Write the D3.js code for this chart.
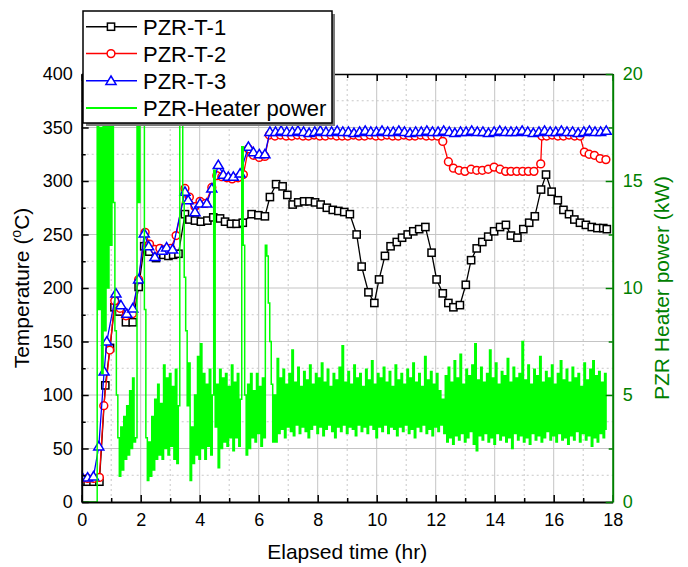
<!DOCTYPE html>
<html><head><meta charset="utf-8">
<script src="https://cdn.jsdelivr.net/npm/d3@7"></script>
<style>body{margin:0;background:#fff}svg{font-family:"Liberation Sans",Arial,sans-serif}</style>
</head><body><svg id="c" width="688" height="567"></svg>
<script>
// ---------------- data ----------------
const t1Time = [0,0.2,0.4,0.6,0.8,0.96,1.11,1.27,1.5,1.73,1.93,2.12,2.29,2.52,2.77,2.94,3.1,3.28,3.5,3.65,3.84,4.04,4.26,4.46,4.69,4.86,5.06,5.25,5.46,5.76,5.99,6.21,6.38,6.59,6.81,6.97,7.15,7.34,7.54,7.72,7.91,8.10,8.31,8.51,8.70,8.90,9.09,9.32,9.49,9.72,9.92,10.08,10.28,10.47,10.68,10.86,11.05,11.24,11.44,11.65,11.86,12.03,12.24,12.43,12.60,12.82,13.02,13.20,13.39,13.58,13.78,13.98,14.18,14.38,14.55,14.77,14.97,15.17,15.36,15.57,15.74,15.93,16.14,16.33,16.52,16.70,16.89,17.09,17.29,17.48,17.68,17.80];
const t1Temp = [19,19,19,19,109,144,182,178,168,168,201,239,234,228,231,230,231,232,269,264,263,262,263,266,265,262,260,260,261,269,268,267,285,297,295,287,278,280,281,281,280,278,275,273,272,271,269,250,220,196,186,208,230,239,243,247,250,253,255,257,233,208,195,186,182,184,203,226,237,243,248,253,257,259,249,247,255,261,267,292,306,290,282,273,269,264,261,259,257,256,256,255];

const t2Time = [0,0.2,0.4,0.6,0.75,0.95,1.12,1.3,1.5,1.72,1.93,2.15,2.3,2.48,2.65,2.85,3.02,3.2,3.5,3.65,3.84,4.01,4.2,4.41,4.58,4.75,4.92,5.1,5.3,5.48,5.65,5.82,6.02,6.21,6.36,6.55,6.74,6.93,7.12,7.31,7.50,7.69,7.88,8.07,8.26,8.45,8.64,8.83,9.02,9.21,9.40,9.59,9.78,9.97,10.16,10.35,10.54,10.73,10.92,11.11,11.30,11.49,11.68,11.87,12.06,12.24,12.43,12.60,12.79,12.99,13.20,13.39,13.58,13.78,13.98,14.18,14.37,14.55,14.75,14.95,15.14,15.33,15.56,15.60,15.76,15.95,16.14,16.33,16.52,16.71,16.89,17.04,17.20,17.38,17.57,17.77];
const t2Temp = [22,22,22,23,90,142,188,181,174,176,208,252,241,236,237,236,237,249,293,285,276,281,279,294,305,304,303,302,303,306,330,324,322,323,343,342,343,342,342,343,342,342,343,342,342,343,342,342,342,343,342,342,343,342,342,343,342,342,343,342,342,343,342,342,342,337,318,312,310,309,311,310,310,311,313,311,309,309,309,309,309,309,316,342,342,343,342,342,343,342,342,327,325,324,321,320];

const t3Time = [0,0.2,0.4,0.58,0.76,0.85,1.16,1.33,1.53,1.73,1.93,2.12,2.27,2.48,2.72,2.88,3.08,3.5,3.61,3.84,4.01,4.24,4.41,4.63,4.80,4.97,5.14,5.37,5.65,5.82,6.02,6.21,6.38,6.57,6.76,6.95,7.14,7.33,7.52,7.71,7.90,8.09,8.28,8.47,8.66,8.85,9.04,9.23,9.42,9.61,9.80,9.99,10.18,10.37,10.56,10.75,10.94,11.13,11.32,11.51,11.70,11.89,12.08,12.27,12.46,12.65,12.84,13.03,13.22,13.41,13.60,13.79,13.98,14.17,14.36,14.55,14.74,14.93,15.12,15.31,15.50,15.69,15.88,16.07,16.26,16.45,16.64,16.83,17.02,17.21,17.40,17.59,17.78];
const t3Temp = [24,23,24,52,122,150,195,184,176,181,208,251,239,229,235,238,236,290,282,271,279,279,293,315,306,304,304,307,332,327,325,325,346,346,347,346,346,347,346,345,346,347,346,346,347,346,346,345,346,347,346,346,347,346,346,347,346,345,346,346,347,346,346,347,346,345,346,346,347,346,346,345,346,347,346,346,346,347,346,345,346,347,346,346,347,346,346,345,346,347,346,346,347];

// heater power, sampled every 0.05 hr from 0 hr (kW)
const heaterStart = 0, heaterStep = 0.05;
const heaterPower = [
0,0,0,0,0,0,0,0,0,0,0,
22,9,17.5,6,22,8,22,10,22,12,
22,14,8,5,3,1.2,3.5,1.5,4.0,2.0,
4.5,2.2,5.2,2.5,5.8,2.8,3.0,22,14,22,
18,22,9,3,1.0,2.8,1.2,4.0,1.5,4.8,
2.0,5.5,2.2,4.6,2.0,6.4,2.5,5.8,2.2,6.0,
2.6,5.4,2.0,6.2,1.8,4.5,22,22,14,10.5,
8,4.5,6.5,1.0,3.5,1.8,5.0,2.2,6.8,2.0,
7.4,2.5,6.0,2.0,5.5,2.6,6.2,2.2,5.0,15.5,
3.5,5.5,1.6,6.2,2.5,5.8,2.8,6.0,2.6,5.4,
3.0,6.4,2.4,5.6,3.0,6.0,2.6,4.8,16.6,12,
5.0,2.2,5.5,2.5,6.0,3.0,5.2,2.8,6.0,3.2,
5.4,2.6,5.8,3.0,12.0,11.5,9.3,7.5,5.5,2.8,
5.0,2.8,
6.7,3.2,5.8,3.4,6.2,3.0,5.5,3.5,6.0,3.3,7.1,3.1,5.6,3.6,6.3,3.2,5.4,3.5,6.1,3.3,
5.7,3.0,6.4,3.4,5.5,3.6,6.0,3.2,5.8,3.5,6.5,3.1,5.6,3.4,6.2,3.6,5.4,3.3,6.0,3.0,
5.7,3.5,6.3,3.3,7.3,3.6,5.6,3.2,6.1,3.5,5.5,3.4,6.4,3.1,5.8,3.6,6.0,3.3,5.4,3.5,
6.2,3.2,5.7,3.6,6.6,3.4,5.5,3.0,6.0,3.5,5.8,3.3,6.3,3.6,5.6,3.2,6.1,3.5,5.4,3.4,
6.4,3.1,5.7,3.5,6.0,3.3,5.5,3.6,6.2,3.2,5.8,3.4,6.5,3.0,5.6,3.5,6.0,3.3,5.4,3.6,
6.8,3.2,5.7,3.4,6.1,3.1,5.5,3.5,6.0,3.3,5.2,3.6,4.8,3.2,5.9,2.8,6.3,3.0,5.6,2.7,
6.6,3.1,5.8,2.9,6.9,3.2,5.5,2.8,6.2,3.0,5.9,3.3,6.4,2.7,7.4,2.4,5.7,3.1,6.3,2.9,
5.6,3.2,6.0,2.8,7.1,3.0,5.8,2.7,6.5,3.2,5.5,2.9,6.1,3.1,5.9,2.8,6.7,3.0,5.6,2.5,
6.3,3.2,5.8,2.9,6.0,3.1,7.5,2.8,5.7,3.0,6.4,2.7,5.5,3.2,6.2,2.9,5.9,3.1,6.8,2.8,
5.6,3.0,6.1,3.3,5.8,2.9,6.4,3.1,5.5,2.8,6.0,3.2,6.6,2.9,5.7,3.0,6.2,2.7,5.6,3.1,
6.3,2.9,5.8,3.3,6.0,2.8,5.4,3.2,6.5,2.9,5.7,3.1,6.2,2.6,6.6,3.0,5.9,2.8,6.1,3.2,
5.6,3.0,6.0,3.4
];

const xTicks = [0,2,4,6,8,10,12,14,16,18];
const xMinorTicks = [1,3,5,7,9,11,13,15,17];
const yTicks = [0,50,100,150,200,250,300,350,400];
const yMinorTicks = [25,75,125,175,225,275,325,375];
const yRTicks = [0,5,10,15,20];
const yRMinorTicks = [2.5,7.5,12.5,17.5];
const seriesNames = ["PZR-T-1","PZR-T-2","PZR-T-3","PZR-Heater power"];
const seriesColors = ["#000000","#ff0000","#0000ff","#00ff00"];

// ---------------- scales ----------------
const L = 81.7, R = 612.7, T = 74, B = 502;
const x = d3.scaleLinear().domain([0,18]).range([L,R]);
const yL = d3.scaleLinear().domain([0,400]).range([B,T]);
const yR = d3.scaleLinear().domain([0,20]).range([B,T]);
const FONT = '"Liberation Sans",Arial,sans-serif';
const GREEN_AX = "#008000";

const svg = d3.select("#c");
svg.append("clipPath").attr("id","pc").append("rect")
  .attr("x",L).attr("y",T).attr("width",R-L).attr("height",B-T);

// ---------------- grid ----------------
const grid = svg.append("g");
grid.selectAll("line.vmaj").data(xTicks.filter(d=>d>0&&d<18)).join("line")
  .attr("x1",d=>x(d)).attr("x2",d=>x(d)).attr("y1",T).attr("y2",B)
  .attr("stroke","#c4c4c4").attr("stroke-width",1);
grid.selectAll("line.vmin").data(xMinorTicks).join("line")
  .attr("x1",d=>x(d)).attr("x2",d=>x(d)).attr("y1",T).attr("y2",B)
  .attr("stroke","#c8c8c8").attr("stroke-width",1).attr("stroke-dasharray","2,3");
grid.selectAll("line.hmaj").data(yTicks.filter(d=>d>0&&d<400)).join("line")
  .attr("y1",d=>yL(d)).attr("y2",d=>yL(d)).attr("x1",L).attr("x2",R)
  .attr("stroke","#c4c4c4").attr("stroke-width",1);
grid.selectAll("line.hmin").data(yMinorTicks).join("line")
  .attr("y1",d=>yL(d)).attr("y2",d=>yL(d)).attr("x1",L).attr("x2",R)
  .attr("stroke","#c8c8c8").attr("stroke-width",1).attr("stroke-dasharray","2,3");

// ---------------- temperature series ----------------
const line = d3.line().x(d=>x(d[0])).y(d=>yL(d[1]));
const plot = svg.append("g").attr("clip-path","url(#pc)");

function drawSeries(times, temps, color, shape){
  const pts = d3.zip(times, temps);
  plot.append("path").datum(pts).attr("d",line)
    .attr("fill","none").attr("stroke",color).attr("stroke-width",1.3);
  const g = plot.append("g");
  pts.forEach(p=>drawMarker(g, x(p[0]), yL(p[1]), color, shape));
}
function drawMarker(g, cx, cy, color, shape){
  if(shape==="square"){
    g.append("rect").attr("x",cx-3.6).attr("y",cy-3.6).attr("width",7.2).attr("height",7.2)
      .attr("fill","#fff").attr("stroke",color).attr("stroke-width",1.5);
  } else if(shape==="circle"){
    g.append("circle").attr("cx",cx).attr("cy",cy).attr("r",3.9)
      .attr("fill","#fff").attr("stroke",color).attr("stroke-width",1.5);
  } else {
    const s=4.8;
    g.append("path").attr("d",`M${cx},${cy-s}L${cx+s*1.05},${cy+s*0.75}L${cx-s*1.05},${cy+s*0.75}Z`)
      .attr("fill","#fff").attr("stroke",color).attr("stroke-width",1.5);
  }
}
drawSeries(t1Time,t1Temp,seriesColors[0],"square");
drawSeries(t2Time,t2Temp,seriesColors[1],"circle");
drawSeries(t3Time,t3Temp,seriesColors[2],"triangle");

// ---------------- heater power ----------------
const heaterPts = heaterPower.map((v,i)=>[heaterStart+i*heaterStep, v]);
const hline = d3.line().x(d=>x(d[0])).y(d=>yR(d[1])).curve(d3.curveStep);
plot.append("path").datum(heaterPts).attr("d",hline)
  .attr("fill","none").attr("stroke",seriesColors[3]).attr("stroke-width",1.5);

// ---------------- axes ----------------
function styleAxis(g, color, dw){
  g.attr("font-family",FONT).attr("font-size",18);
  g.select(".domain").attr("stroke",color).attr("stroke-width",dw);
  g.selectAll(".tick line").attr("stroke",color).attr("stroke-width",1.5);
  g.selectAll(".tick text").attr("fill",color);
}
let g;
g = svg.append("g").attr("transform",`translate(0,${B})`)
  .call(d3.axisBottom(x).tickValues(xMinorTicks).tickSize(-4).tickSizeOuter(0).tickFormat(""));
g.select(".domain").remove(); styleAxis(g,"#000",2);
g = svg.append("g").attr("transform",`translate(0,${B})`)
  .call(d3.axisBottom(x).tickValues(xTicks).tickSize(-7).tickSizeOuter(0).tickPadding(11).tickFormat(d3.format("d")));
styleAxis(g,"#000",2);
g = svg.append("g").attr("transform",`translate(0,${T})`)
  .call(d3.axisTop(x).tickValues(xMinorTicks).tickSize(-4).tickSizeOuter(0).tickFormat(""));
g.select(".domain").remove(); styleAxis(g,"#000",1.5);
g = svg.append("g").attr("transform",`translate(0,${T})`)
  .call(d3.axisTop(x).tickValues(xTicks).tickSize(-7).tickSizeOuter(0).tickFormat(""));
styleAxis(g,"#000",1.5);
g = svg.append("g").attr("transform",`translate(${L},0)`)
  .call(d3.axisLeft(yL).tickValues(yMinorTicks).tickSize(-4).tickSizeOuter(0).tickFormat(""));
g.select(".domain").remove(); styleAxis(g,"#000",2);
g = svg.append("g").attr("transform",`translate(${L},0)`)
  .call(d3.axisLeft(yL).tickValues(yTicks).tickSize(-7).tickSizeOuter(0).tickPadding(9).tickFormat(d3.format("d")));
styleAxis(g,"#000",2);
g = svg.append("g").attr("transform",`translate(${R},0)`)
  .call(d3.axisRight(yR).tickValues(yRMinorTicks).tickSize(-4).tickSizeOuter(0).tickFormat(""));
g.select(".domain").remove(); styleAxis(g,GREEN_AX,2);
g = svg.append("g").attr("transform",`translate(${R},0)`)
  .call(d3.axisRight(yR).tickValues(yRTicks).tickSize(-7).tickSizeOuter(0).tickPadding(10).tickFormat(d3.format("d")));
styleAxis(g,GREEN_AX,2);

// axis titles
svg.append("text").attr("x",(L+R)/2).attr("y",559).attr("text-anchor","middle")
  .attr("font-family",FONT).attr("font-size",21).attr("fill","#000").text("Elapsed time (hr)");
const lt = svg.append("text").attr("transform","translate(29,288) rotate(-90)").attr("text-anchor","middle")
  .attr("font-family",FONT).attr("font-size",21).attr("fill","#000");
lt.append("tspan").text("Temperature (");
lt.append("tspan").attr("font-size",14).attr("dy",-8).text("o");
lt.append("tspan").attr("dy",8).text("C)");
svg.append("text").attr("transform","translate(669,288) rotate(-90)").attr("text-anchor","middle")
  .attr("font-family",FONT).attr("font-size",21).attr("fill",GREEN_AX).text("PZR Heater power (kW)");

// ---------------- legend ----------------
const lg = svg.append("g");
lg.append("rect").attr("x",86).attr("y",14).attr("width",249).attr("height",112).attr("fill","#7a7a7a");
lg.append("rect").attr("x",83).attr("y",11).attr("width",249).attr("height",112)
  .attr("fill","#fff").attr("stroke","#000").attr("stroke-width",1.5);
const rowsY = [26.7,53.6,80.8,108];
const shapes = ["square","circle","triangle",null];
seriesNames.forEach((n,i)=>{
  const cy = rowsY[i];
  lg.append("line").attr("x1",86).attr("x2",137).attr("y1",cy).attr("y2",cy)
    .attr("stroke",seriesColors[i]).attr("stroke-width", i===3?2:1.5);
  if(shapes[i]) drawMarker(lg,111,cy,seriesColors[i],shapes[i]);
  lg.append("text").attr("x",143).attr("y",cy+8).attr("font-family",FONT).attr("font-size",22)
    .attr("fill","#000").text(n);
});
</script></body></html>
